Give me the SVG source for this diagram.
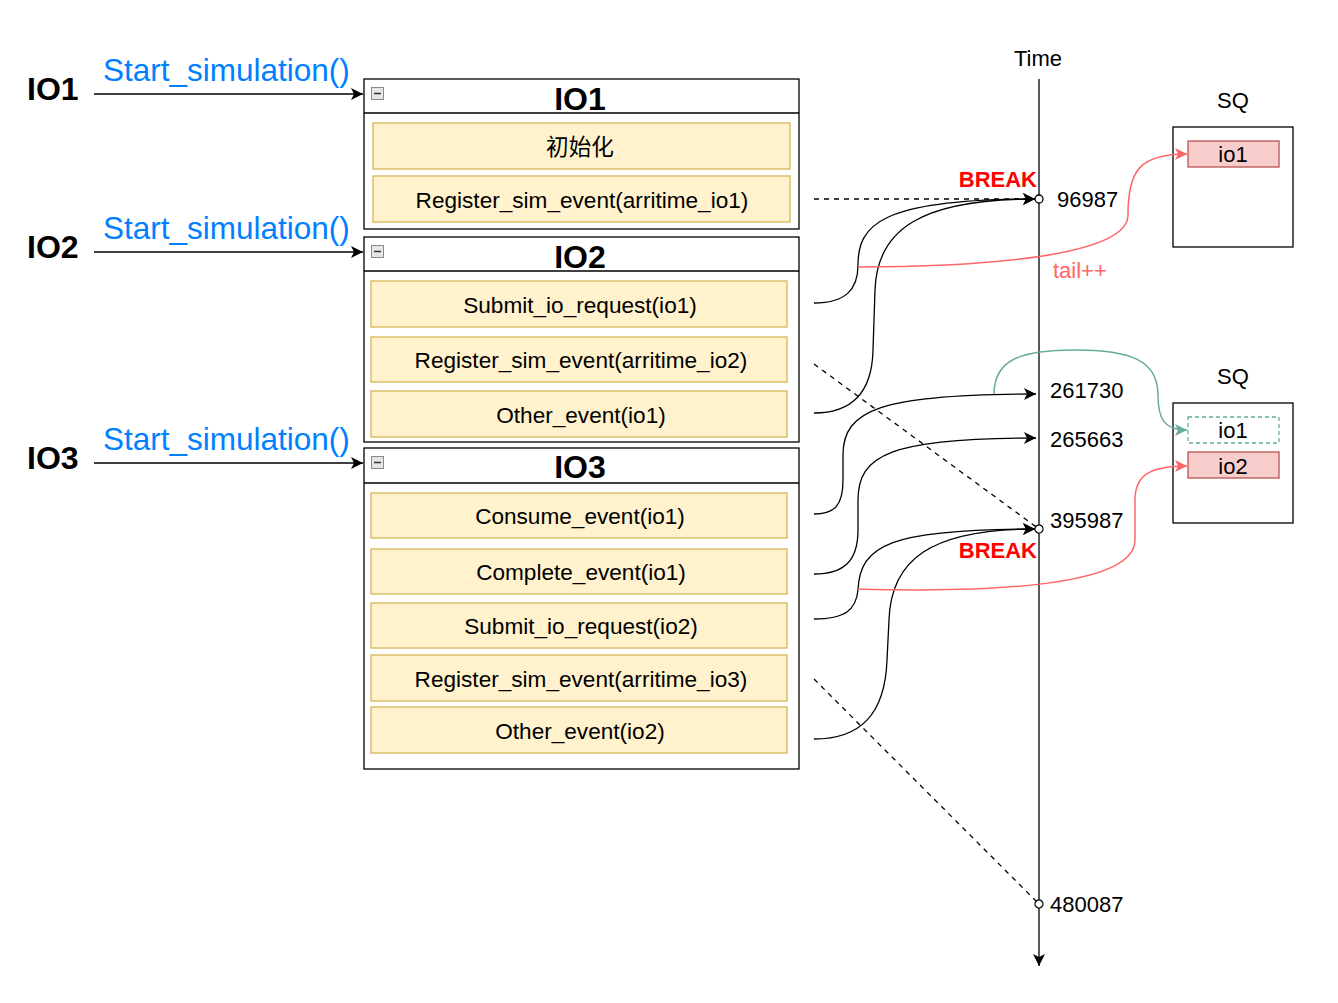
<svg xmlns="http://www.w3.org/2000/svg" width="1338" height="1003" viewBox="0 0 1338 1003">
<style>
text{font-family:"Liberation Sans",Arial,"Noto Sans CJK SC",sans-serif;}
.lbl{font-size:32px;font-weight:bold;fill:#000;}
.start{font-size:31.5px;fill:#007FFF;}
.title{font-size:32px;font-weight:bold;text-anchor:middle;fill:#000;}
.box{fill:#fff;stroke:#000;stroke-width:1.3;}
.item{fill:#fff2cc;stroke:#d6b656;stroke-width:1.3;}
.itxt{font-size:22.6px;text-anchor:middle;fill:#000;}
.num{font-size:22px;fill:#000;}
.brk{font-size:22px;font-weight:bold;fill:#ff0000;text-anchor:end;}
.blk{fill:none;stroke:#000;stroke-width:1.3;}
.dash{fill:none;stroke:#000;stroke-width:1.3;stroke-dasharray:5 5;}
.red{fill:none;stroke:#ff6666;stroke-width:1.5;}
.teal{fill:none;stroke:#67ab9f;stroke-width:1.5;}
.sq{fill:#fff;stroke:#000;stroke-width:1.3;}
.sqi{fill:#f8cecc;stroke:#b85450;stroke-width:1.3;}
.sqd{fill:#fff;stroke:#67ab9f;stroke-width:1.3;stroke-dasharray:4 3;}
.mini{fill:#e6e6e6;stroke:#8a8a8a;stroke-width:1;}
</style>
<defs>
<marker id="ab" markerUnits="userSpaceOnUse" markerWidth="14" markerHeight="12" refX="12" refY="6" orient="auto">
<path d="M0,0 L12,6 L0,12 L3,6 Z" fill="#000"/>
</marker>
<marker id="ar" markerUnits="userSpaceOnUse" markerWidth="14" markerHeight="12" refX="12" refY="6" orient="auto">
<path d="M0,0 L12,6 L0,12 L3,6 Z" fill="#ff6666"/>
</marker>
<marker id="at" markerUnits="userSpaceOnUse" markerWidth="14" markerHeight="12" refX="12" refY="6" orient="auto">
<path d="M0,0 L12,6 L0,12 L3,6 Z" fill="#67ab9f"/>
</marker>
<marker id="ov" markerUnits="userSpaceOnUse" markerWidth="12" markerHeight="12" refX="6" refY="6" orient="auto">
<circle cx="6" cy="6" r="4" fill="#fff" stroke="#000" stroke-width="1.3"/>
</marker>
</defs>
<rect width="1338" height="1003" fill="#fff"/>

<g id="left-labels">
<text class="lbl" x="27" y="100">IO1</text>
<text class="lbl" x="27" y="258">IO2</text>
<text class="lbl" x="27" y="469">IO3</text>
<text class="start" x="103" y="81">Start_simulation()</text>
<text class="start" x="103" y="239">Start_simulation()</text>
<text class="start" x="103" y="450">Start_simulation()</text>
</g>

<g id="io1">
<rect class="box" x="364" y="79" width="435" height="150"/>
<line x1="364" y1="113" x2="799" y2="113" stroke="#000" stroke-width="1.3"/>
<rect class="mini" x="371.5" y="87.5" width="12" height="12"/><line x1="374" y1="93.5" x2="381" y2="93.5" stroke="#333" stroke-width="1.5"/>
<text class="title" x="580" y="110">IO1</text>
<rect class="item" x="373" y="123" width="417" height="46"/>
<text class="itxt" x="580" y="155">初始化</text>
<rect class="item" x="373" y="176" width="417" height="46"/>
<text class="itxt" x="582" y="208">Register_sim_event(arritime_io1)</text>
</g>

<g id="io2">
<rect class="box" x="364" y="237" width="435" height="205"/>
<line x1="364" y1="271" x2="799" y2="271" stroke="#000" stroke-width="1.3"/>
<rect class="mini" x="371.5" y="245.5" width="12" height="12"/><line x1="374" y1="251.5" x2="381" y2="251.5" stroke="#333" stroke-width="1.5"/>
<text class="title" x="580" y="268">IO2</text>
<rect class="item" x="371" y="281" width="416" height="46"/>
<text class="itxt" x="580" y="313">Submit_io_request(io1)</text>
<rect class="item" x="371" y="337" width="416" height="45"/>
<text class="itxt" x="581" y="368">Register_sim_event(arritime_io2)</text>
<rect class="item" x="371" y="391" width="416" height="46"/>
<text class="itxt" x="581" y="423">Other_event(io1)</text>
</g>

<g id="io3">
<rect class="box" x="364" y="448" width="435" height="321"/>
<line x1="364" y1="483" x2="799" y2="483" stroke="#000" stroke-width="1.3"/>
<rect class="mini" x="371.5" y="456.5" width="12" height="12"/><line x1="374" y1="462.5" x2="381" y2="462.5" stroke="#333" stroke-width="1.5"/>
<text class="title" x="580" y="478">IO3</text>
<rect class="item" x="371" y="493" width="416" height="45"/>
<text class="itxt" x="580" y="524">Consume_event(io1)</text>
<rect class="item" x="371" y="549" width="416" height="45"/>
<text class="itxt" x="581" y="580">Complete_event(io1)</text>
<rect class="item" x="371" y="603" width="416" height="45"/>
<text class="itxt" x="581" y="634">Submit_io_request(io2)</text>
<rect class="item" x="371" y="655" width="416" height="46"/>
<text class="itxt" x="581" y="687">Register_sim_event(arritime_io3)</text>
<rect class="item" x="371" y="707" width="416" height="46"/>
<text class="itxt" x="580" y="739">Other_event(io2)</text>
</g>

<g id="time-axis">
<text class="num" x="1038" y="66" text-anchor="middle">Time</text>
<text class="num" x="1057" y="207">96987</text>
<text class="num" x="1050" y="398">261730</text>
<text class="num" x="1050" y="447">265663</text>
<text class="num" x="1050" y="528">395987</text>
<text class="num" x="1050" y="912">480087</text>
<text class="brk" x="1037" y="187">BREAK</text>
<text class="brk" x="1037" y="558">BREAK</text>
<text x="1053" y="278" font-size="22" fill="#ff6666">tail++</text>
</g>

<g id="sq1">
<text class="num" x="1233" y="108" text-anchor="middle">SQ</text>
<rect class="sq" x="1173" y="127" width="120" height="120"/>
<rect class="sqi" x="1188" y="141" width="91" height="26"/>
<text class="num" x="1233" y="162" text-anchor="middle">io1</text>
</g>

<g id="sq2">
<text class="num" x="1233" y="384" text-anchor="middle">SQ</text>
<rect class="sq" x="1173" y="403" width="120" height="120"/>
<rect class="sqd" x="1188" y="417" width="91" height="26"/>
<text class="num" x="1233" y="438" text-anchor="middle">io1</text>
<rect class="sqi" x="1188" y="452" width="91" height="26"/>
<text class="num" x="1233" y="474" text-anchor="middle">io2</text>
</g>

<g id="connectors">
<line x1="94" y1="94" x2="363" y2="94" class="blk" marker-end="url(#ab)"/>
<line x1="94" y1="252" x2="363" y2="252" class="blk" marker-end="url(#ab)"/>
<line x1="94" y1="463" x2="363" y2="463" class="blk" marker-end="url(#ab)"/>
<line x1="1039" y1="79" x2="1039" y2="966" class="blk" marker-end="url(#ab)"/>

<path class="dash" d="M814,199 L1039,199" marker-end="url(#ov)"/>
<path class="dash" d="M814,364 L1039,529" marker-end="url(#ov)"/>
<path class="dash" d="M814,679 L1039,904" marker-end="url(#ov)"/>

<path class="blk" d="M814,303 C845,303 858,290 858,265 C858,225 880,199 1035,199" marker-end="url(#ab)"/>
<path class="blk" d="M814,413 C850,413 872,395 873,350 L875,290 C877,230 920,199 1035,199" marker-end="url(#ab)"/>
<path class="blk" d="M814,514 C835,514 843,505 843,480 L843,455 C843,410 880,394 1036,394" marker-end="url(#ab)"/>
<path class="blk" d="M814,574 C845,574 858,560 858,530 L858,500 C858,455 890,438 1036,438" marker-end="url(#ab)"/>
<path class="blk" d="M814,619 C845,619 856,610 858,590 C860,545 890,529 1035,529" marker-end="url(#ab)"/>
<path class="blk" d="M814,739 C860,739 885,715 887,660 L889,620 C891,560 930,529 1035,529" marker-end="url(#ab)"/>

<path class="red" d="M858,267 C990,267 1128,255 1128,215 C1128,170 1140,154 1187,154" marker-end="url(#ar)"/>
<path class="red" d="M858,589 C1000,593 1135,585 1135,540 L1135,500 C1135,475 1150,466 1187,466" marker-end="url(#ar)"/>
<path class="teal" d="M994,394 C994,360 1020,350 1075,350 C1130,350 1158,360 1158,395 C1158,420 1165,430 1187,430" marker-end="url(#at)"/>
</g>
</svg>
